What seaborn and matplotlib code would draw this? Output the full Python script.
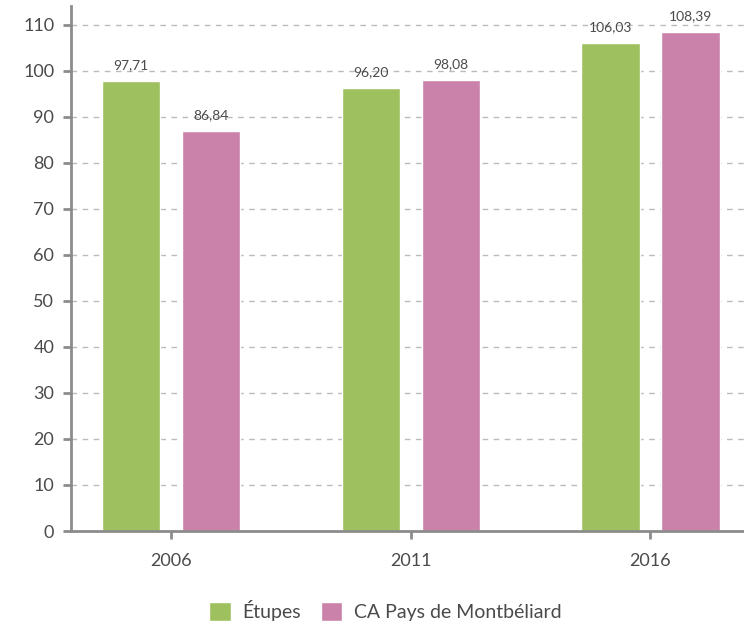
import pandas as pd
import seaborn as sns
import matplotlib.pyplot as plt

# data
years = ['2006', '2011', '2016']
etupes = [97.71, 96.20, 106.03]
ca_pays = [86.84, 98.08, 108.39]
series = ['Étupes', 'CA Pays de Montbéliard']

df = pd.DataFrame({
    'annee': years * 2,
    'valeur': etupes + ca_pays,
    'zone': [series[0]] * 3 + [series[1]] * 3,
})

sns.set_theme(style='white')
plt.rcParams['font.family'] = ['Lato', 'DejaVu Sans']
txt = '#4a4a4a'

fig = plt.figure(figsize=(7.44, 6.24), dpi=100)
ax = fig.add_axes([0.0954, 0.149, 0.9046, 0.841])

sns.barplot(data=df, x='annee', y='valeur', hue='zone',
            palette=['#9fc05f', '#ca82aa'], width=0.667, gap=0.27,
            saturation=1, ax=ax, zorder=2)

for cont in ax.containers:
    ax.bar_label(cont, labels=[f'{v:.2f}'.replace('.', ',') for v in cont.datavalues],
                 padding=7, fontsize=10, color=txt)

ax.set_ylim(0, 114)
ax.set_xlim(-0.417, 2.39)
ax.set_yticks(range(0, 111, 10))
ax.yaxis.grid(True, linestyle=(0, (4, 4)), color='#bbbbbb', linewidth=1)
ax.set_axisbelow(True)
ax.set_xlabel('')
ax.set_ylabel('')

for s in ['top', 'right']:
    ax.spines[s].set_visible(False)
for s in ['left', 'bottom']:
    ax.spines[s].set_color('#8c8c8c')
    ax.spines[s].set_linewidth(2)
    ax.spines[s].set_zorder(3)

ax.tick_params(axis='y', left=True, length=6, width=2, color='#8c8c8c',
               labelsize=13, labelcolor=txt, pad=6)
ax.tick_params(axis='x', bottom=True, length=6, width=2, color='#8c8c8c',
               labelsize=13, labelcolor=txt, pad=10)

ax.legend(loc='center', bbox_to_anchor=(0.467, -0.152), ncol=2,
          frameon=False, fontsize=14, labelcolor=txt, handlelength=1.1,
          handleheight=1.1, handletextpad=0.6, columnspacing=1.0,
          borderpad=0.2)

fig.savefig('out.png', dpi=100)
